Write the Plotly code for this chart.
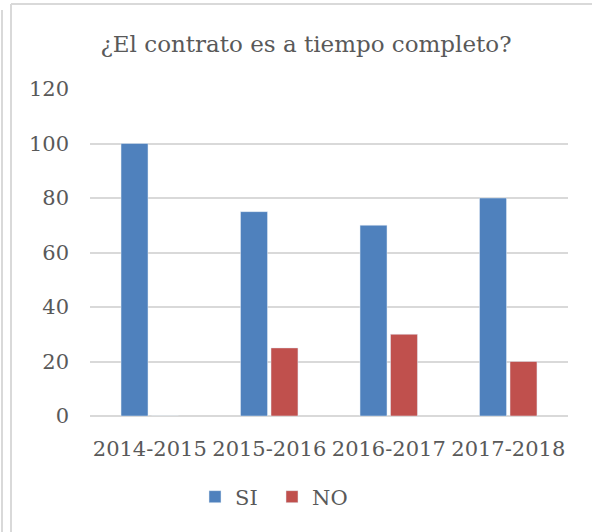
import plotly.graph_objects as go

categories = ["2014-2015", "2015-2016", "2016-2017", "2017-2018"]
si_values = [100, 75, 70, 80]
no_values = [0, 25, 30, 20]
y_ticks = [0, 20, 40, 60, 80, 100, 120]

W, H = 592, 532
L, R, T, B = 90, 24, 89, 116
pw, ph = W - L - R, H - T - B

def px(x):
    return (x - L) / pw

def py(y):
    return (H - B - y) / ph

font_family = "DejaVu Serif, Liberation Serif, serif"
grey = "#595959"
line_grey = "#D9D9D9"

fig = go.Figure()
fig.add_trace(go.Bar(name="SI", x=categories, y=si_values, marker_color="#4F81BD"))
fig.add_trace(go.Bar(name="NO", x=categories, y=no_values, marker_color="#C0504D"))

fig.update_layout(
    width=W, height=H,
    margin=dict(l=L, r=R, t=T, b=B, autoexpand=False),
    paper_bgcolor="white", plot_bgcolor="white",
    barmode="group", bargap=0.49, bargroupgap=0.115,
    font=dict(family=font_family, color=grey, size=21),
    title=dict(text="¿El contrato es a tiempo completo?", xref="paper", x=px(306), xanchor="center",
               y=1 - 44 / H, yanchor="middle",
               font=dict(family=font_family, size=23, color=grey)),
    legend=dict(orientation="h", x=px(195), xanchor="left", y=py(497), yanchor="middle",
                font=dict(size=21, color=grey), itemwidth=30, entrywidth=32,
                entrywidthmode="pixels", traceorder="normal"),
    showlegend=True,
)
fig.update_yaxes(range=[0, 120], tickvals=y_ticks, showgrid=True, gridcolor=line_grey, gridwidth=2,
                 zeroline=True, zerolinecolor=line_grey, zerolinewidth=2, showline=False,
                 ticks="", ticklabelstandoff=20, tickfont=dict(size=21, color=grey), automargin=False)
fig.update_xaxes(showline=False, ticks="", tickangle=0, tickfont=dict(size=21, color=grey),
                 ticklabelstandoff=18, automargin=False)

shapes = [
    dict(type="line", xref="paper", yref="paper", x0=px(11), x1=px(600), y0=py(4), y1=py(4),
         line=dict(color=line_grey, width=2)),
    dict(type="line", xref="paper", yref="paper", x0=px(11), x1=px(11), y0=py(4), y1=py(540),
         line=dict(color=line_grey, width=2)),
    dict(type="line", xref="paper", yref="paper", x0=px(2), x1=px(2), y0=py(10), y1=py(540),
         line=dict(color=line_grey, width=2)),
]
fig.update_layout(shapes=shapes)

fig.write_html("out.html", config={"displayModeBar": False},
               post_script="document.body.style.margin='0';document.body.style.overflow='hidden';")
